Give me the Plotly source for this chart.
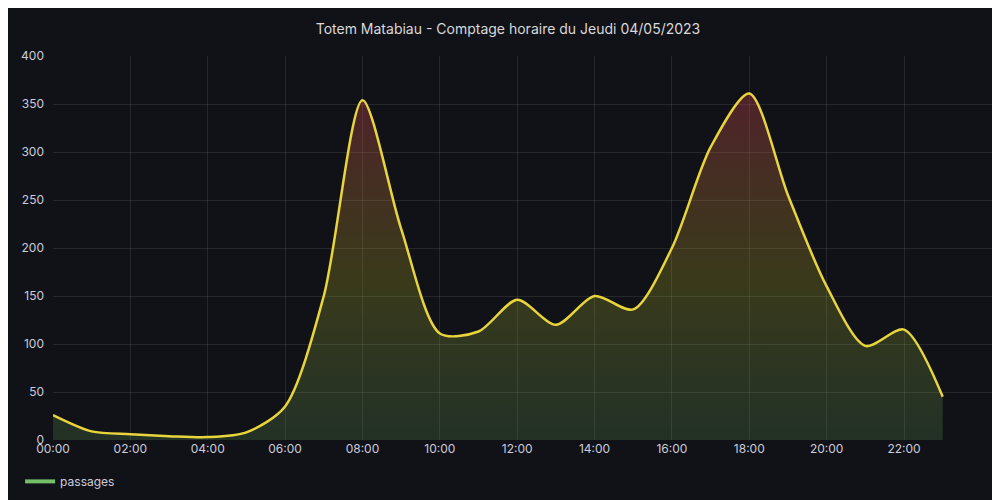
import plotly.graph_objects as go

hours = [f"2023-05-04 {h:02d}:00" for h in range(24)]
passages = [26, 9, 6, 4, 3, 8, 35, 150, 354, 220, 111, 113, 146, 120, 150, 136, 200, 305, 361, 255, 160, 98, 115, 45]
tick_vals = [f"2023-05-04 {h:02d}:00" for h in range(0, 24, 2)]
tick_text = [f"{h:02d}:00" for h in range(0, 24, 2)]

fig = go.Figure()
fig.add_trace(go.Scatter(
    x=hours, y=passages, name="passages", mode="lines", showlegend=False,
    line=dict(color="#e8d53c", width=2.5, shape="spline", smoothing=0.8),
    fill="tozeroy",
    fillgradient=dict(type="vertical", colorscale=[
        [0, "rgba(115,191,105,0.18)"], [0.45, "rgba(200,200,40,0.22)"], [1, "rgba(242,73,92,0.28)"]]),
))
fig.add_trace(go.Scatter(x=[None], y=[None], mode="lines", name="passages",
                         line=dict(color="#73bf69", width=4), showlegend=True))
fig.update_layout(
    width=1000, height=500,
    paper_bgcolor="#111217", plot_bgcolor="#111217",
    font=dict(family="Inter", color="#ccccdc", size=12),
    title=dict(text="Totem Matabiau - Comptage horaire du Jeudi 04/05/2023", x=0.5, y=0.968,
               xanchor="center", font=dict(size=14, color="#d8d9da")),
    margin=dict(l=41, r=15, t=48, b=55),
    showlegend=True,
    legend=dict(orientation="h", x=-0.035, y=-0.07, xanchor="left", yanchor="top",
                font=dict(size=12, color="#ccccdc"), bgcolor="rgba(0,0,0,0)"),
    xaxis=dict(range=["2023-05-04 00:00", "2023-05-05 00:18"], tickvals=tick_vals, ticktext=tick_text,
               gridcolor="rgba(255,255,255,0.09)", showline=False, zeroline=False, ticks="",
               automargin=False),
    yaxis=dict(range=[0, 400], dtick=50, gridcolor="rgba(255,255,255,0.09)", zeroline=False,
               ticks="", ticklabelstandoff=8, automargin=False),
)
fig.write_html("out.html")
